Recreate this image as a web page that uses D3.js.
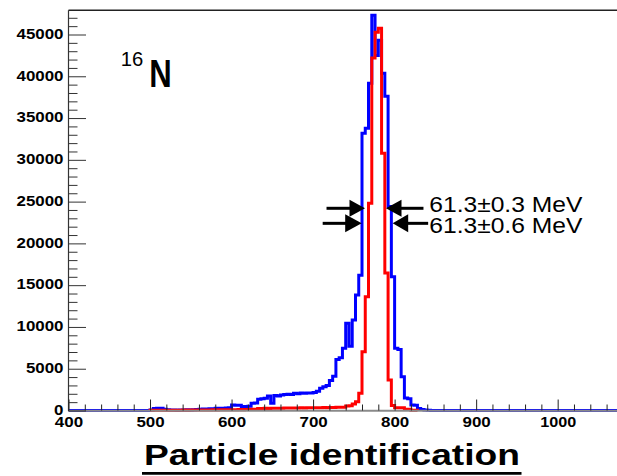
<!DOCTYPE html>
<html><head><meta charset="utf-8">
<script src="https://cdn.jsdelivr.net/npm/d3@7"></script>
<style>body{margin:0;background:#fff}svg{display:block}text{font-family:"Liberation Sans",Arial,Helvetica,sans-serif}</style>
</head><body>
<svg id="c" width="617" height="476"></svg>
<script>
// ---- data ----
const binWidth = 4;
const blueStart = 500;
const blueCounts = [60,250,270,260,150,80,60,60,40,60,60,80,60,100,120,140,180,160,200,220,
  260,280,250,300,320,660,640,620,460,480,500,860,900,1340,1400,1460,1735,860,1800,1735,
  1850,1900,1950,1900,2060,2000,2080,2060,2100,2080,2150,2300,2650,2850,3000,3600,4100,6100,6300,7440,
  10450,7700,10830,13820,16200,33170,33770,39160,47300,42500,44300,40350,37600,24400,16000,7440,7300,4045,1500,1400,
  660,640,240,120,60,30];
const redStart = 500;
const redCounts = [20,30,30,40,30,30,40,30,40,40,50,40,50,50,60,60,50,70,60,80,
  70,80,90,80,100,90,100,110,100,120,110,140,160,250,240,260,250,270,260,280,
  260,290,300,290,310,300,320,310,330,320,340,330,340,350,340,360,370,380,390,400,
  540,560,780,1050,2060,7040,13620,24800,42200,45260,45740,30800,16460,3650,600,340,340,340,140,140,
  40,30];
const xMajor = [400,500,600,700,800,900,1000];
const yMajor = [0,5000,10000,15000,20000,25000,30000,35000,40000,45000];
const nucleusMass = "16", nucleusSymbol = "N";
const widthLabels = ["61.3\u00b10.3 MeV", "61.3\u00b10.6 MeV"];
// arrow tips in data units [left tip x, right tip x, level]
const arrowTipsLeft = [763.7, 759.6];
const arrowTipsRight = [789.4, 797.6];
const arrowLevels = [24200, 22400];
const title = "Particle identification";

// ---- scales ----
const svg = d3.select("#c");
const x = d3.scaleLinear().domain([400, 1100]).range([68.5, 639.2]);
const y = d3.scaleLinear().domain([0, 45000]).range([410.5, 34.5]);
const topY = 10.3, rightX = 617;

function outline(start, counts, extendToEdges) {
  const pts = [];
  if (extendToEdges) pts.push([x.domain()[0], 0]);
  pts.push([start, 0]);
  counts.forEach((c, i) => {
    const e = start + i * binWidth;
    pts.push([e, c]); pts.push([e + binWidth, c]);
  });
  const end = start + counts.length * binWidth;
  pts.push([end, 0]);
  if (extendToEdges) pts.push([x.domain()[1], 0]);
  return pts;
}
const line = d3.line().x(d => x(d[0])).y(d => y(d[1]));

svg.append("defs").append("clipPath").attr("id", "clip")
  .append("rect").attr("x", 68.5).attr("y", topY).attr("width", rightX - 68.5).attr("height", 405);

const g = svg.append("g").attr("clip-path", "url(#clip)");
svg.append("line").attr("x1", 68.5).attr("x2", rightX).attr("y1", 410.8).attr("y2", 410.8)
  .attr("stroke", "#8a8a8a").attr("stroke-width", 2);

g.append("path").attr("d", line(outline(blueStart, blueCounts, true)))
  .attr("fill", "none").attr("stroke", "#0000ff").attr("stroke-width", 3).attr("stroke-linejoin", "miter");
g.append("path").attr("d", line(outline(redStart, redCounts, false)))
  .attr("fill", "none").attr("stroke", "#ff0000").attr("stroke-width", 3).attr("stroke-linejoin", "miter");

// frame lines
svg.append("line").attr("x1", 68.5).attr("x2", rightX).attr("y1", topY).attr("y2", topY)
  .attr("stroke", "#222").attr("stroke-width", 1.5);
svg.append("line").attr("x1", 68.5).attr("x2", 68.5).attr("y1", topY).attr("y2", 411)
  .attr("stroke", "#333").attr("stroke-width", 1.2);

// x axis
const xMinor = d3.range(400, 1100, 20).filter(v => !xMajor.includes(v));
const xAxisMinor = d3.axisBottom(x).tickValues(xMinor).tickSizeInner(-6).tickSizeOuter(0).tickFormat("");
const xAxisMajor = d3.axisBottom(x).tickValues(xMajor).tickSizeInner(-11).tickSizeOuter(0).tickPadding(6).tickFormat(d3.format("d"));
const gxm = svg.append("g").attr("transform", "translate(0,410.5)").call(xAxisMinor);
const gx = svg.append("g").attr("transform", "translate(0,410.5)").call(xAxisMajor);
[gxm, gx].forEach(a => { a.select(".domain").remove(); a.selectAll(".tick line").attr("stroke", "#222").attr("stroke-width", 1); });
gx.selectAll("text").attr("font-size", 14.5).attr("font-weight", "bold").attr("fill", "#000")
  .attr("font-family", "'Liberation Sans',Arial,sans-serif")
  .attr("textLength", d => String(d).length === 4 ? 36 : 28.3).attr("lengthAdjust", "spacingAndGlyphs");

// y axis
const yMinor = d3.range(0, 48000, 1000).filter(v => !yMajor.includes(v));
const yAxisMinor = d3.axisLeft(y).tickValues(yMinor).tickSizeInner(-9).tickSizeOuter(0).tickFormat("");
const yAxisMajor = d3.axisLeft(y).tickValues(yMajor).tickSizeInner(-17.5).tickSizeOuter(0).tickPadding(5).tickFormat(d3.format("d"));
const gym = svg.append("g").attr("transform", "translate(68.5,0)").call(yAxisMinor);
const gy = svg.append("g").attr("transform", "translate(68.5,0)").call(yAxisMajor);
[gym, gy].forEach(a => { a.select(".domain").remove(); a.selectAll(".tick line").attr("stroke", "#333").attr("stroke-width", 1); });
gy.selectAll("text").attr("font-size", 14).attr("font-weight", "bold").attr("fill", "#000")
  .attr("font-family", "'Liberation Sans',Arial,sans-serif").attr("dy", "0.27em")
  .attr("textLength", d => String(d).length * 9.4).attr("lengthAdjust", "spacingAndGlyphs");

// nucleus label
svg.append("text").attr("x", 120.7).attr("y", 66).attr("font-size", 20).text(nucleusMass)
  .attr("textLength", 22.5).attr("lengthAdjust", "spacingAndGlyphs");
svg.append("text").attr("x", 149.3).attr("y", 86.7).attr("font-size", 38).attr("font-weight", "bold").text(nucleusSymbol)
  .attr("textLength", 22.5).attr("lengthAdjust", "spacingAndGlyphs");

// arrows
function arrow(tipX, yy, dir, headLen, headHalf, tail) {
  const tx = x(tipX), ty = y(yy);
  svg.append("line").attr("x1", tx + dir * (headLen - 2)).attr("x2", tx + dir * tail)
    .attr("y1", ty).attr("y2", ty).attr("stroke", "#000").attr("stroke-width", 3);
  svg.append("path").attr("d", `M${tx},${ty}L${tx + dir * headLen},${ty - headHalf}L${tx + dir * headLen},${ty + headHalf}Z`)
    .attr("fill", "#000");
}
arrow(arrowTipsLeft[0], arrowLevels[0], -1, 15.5, 8.5, 38.5);
arrow(arrowTipsLeft[1], arrowLevels[1], -1, 16.5, 9, 39);
arrow(arrowTipsRight[0], arrowLevels[0], 1, 15.5, 8.5, 37.5);
arrow(arrowTipsRight[1], arrowLevels[1], 1, 15.5, 9, 35.5);
widthLabels.forEach((t, i) => {
  svg.append("text").attr("x", 429.3).attr("y", [211.7, 233.3][i]).attr("font-size", 22.5).text(t)
    .attr("textLength", 153).attr("lengthAdjust", "spacingAndGlyphs");
});

// title
svg.append("text").attr("x", 144).attr("y", 465).attr("font-size", 30).attr("font-weight", "bold").text(title)
  .attr("textLength", 376).attr("lengthAdjust", "spacingAndGlyphs");
svg.append("line").attr("x1", 142).attr("x2", 521.5).attr("y1", 473.3).attr("y2", 473.3)
  .attr("stroke", "#000").attr("stroke-width", 2.8);
</script>
</body></html>
